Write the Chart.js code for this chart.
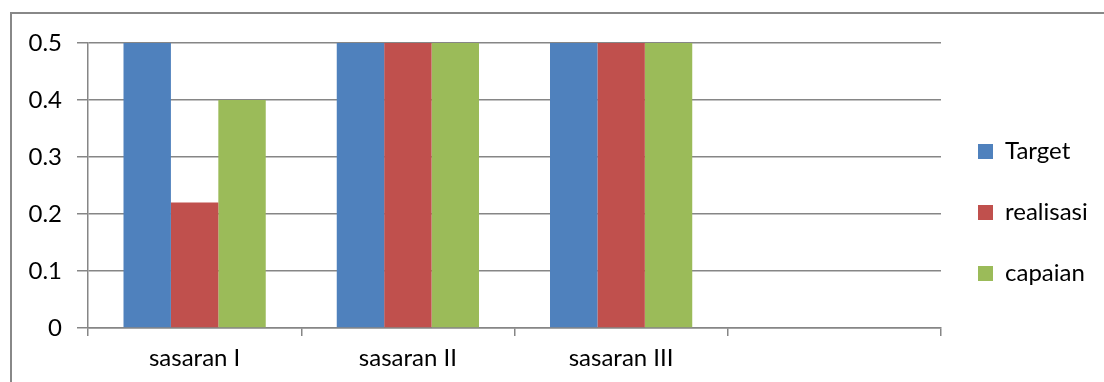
<!DOCTYPE html>
<html>
<head>
<meta charset="utf-8">
<script src="https://cdn.jsdelivr.net/npm/chart.js@4/dist/chart.umd.min.js"></script>
<style>
  html, body { margin: 0; padding: 0; background: #fff; overflow: hidden; }
  #wrap { position: relative; width: 1104px; height: 382px; }
  #frame { position: absolute; left: 10px; top: 12px; width: 1200px; height: 500px;
           border-left: 2px solid #888; border-top: 2px solid #888; pointer-events: none; }
  canvas { position: absolute; left: 0; top: 0; }
</style>
</head>
<body>
<div id="wrap">
  <canvas id="chart" width="1104" height="382"></canvas>
  <div id="frame"></div>
</div>
<script>
// data
let categories = ['sasaran I', 'sasaran II', 'sasaran III', ''];
let target = [0.5, 0.5, 0.5, null];
let realisasi = [0.22, 0.5, 0.5, null];
let capaian = [0.4, 0.5, 0.5, null];
let yTicks = [0, 0.1, 0.2, 0.3, 0.4, 0.5];

let fontFamily = 'Lato, "Open Sans", sans-serif';
Chart.defaults.color = '#000';
Chart.defaults.font.family = fontFamily;

let grey = '#868686';

let chart = new Chart('chart', {
	type: 'bar',
	data: {
		labels: categories,
		datasets: [{
			label: 'Target',
			backgroundColor: '#4F81BD',
			data: target
		}, {
			label: 'realisasi',
			backgroundColor: '#C0504D',
			data: realisasi
		}, {
			label: 'capaian',
			backgroundColor: '#9BBB59',
			data: capaian
		}]
	},
	options: {
		responsive: false,
		animation: false,
		layout: { padding: { left: 0, top: 43, right: 8, bottom: 0 } },
		datasets: {
			bar: { categoryPercentage: 0.667, barPercentage: 1.0 }
		},
		scales: {
			x: {
				grid: { drawOnChartArea: false, drawTicks: true, tickLength: 8, color: grey, lineWidth: 1.5, offset: true },
				border: { color: grey, width: 1.5 },
				ticks: { font: { size: 24 }, padding: 8, maxRotation: 0 },
				afterFit: function (scale) { scale.height = 54; }
			},
			y: {
				min: 0,
				max: 0.5,
				afterBuildTicks: function (scale) { scale.ticks = yTicks.map(v => ({ value: v })); },
				grid: { color: grey, lineWidth: 1.5, tickLength: 11 },
				border: { color: grey, width: 1.5 },
				ticks: { font: { size: 24 }, padding: 15 },
				afterFit: function (scale) { scale.width = 88; }
			}
		},
		plugins: {
			legend: {
				position: 'right',
				maxWidth: 155,
				labels: {
					boxWidth: 15,
					boxHeight: 15,
					padding: 37,
					font: { size: 24 }
				}
			},
			tooltip: { enabled: false }
		}
	}
});
</script>
</body>
</html>
